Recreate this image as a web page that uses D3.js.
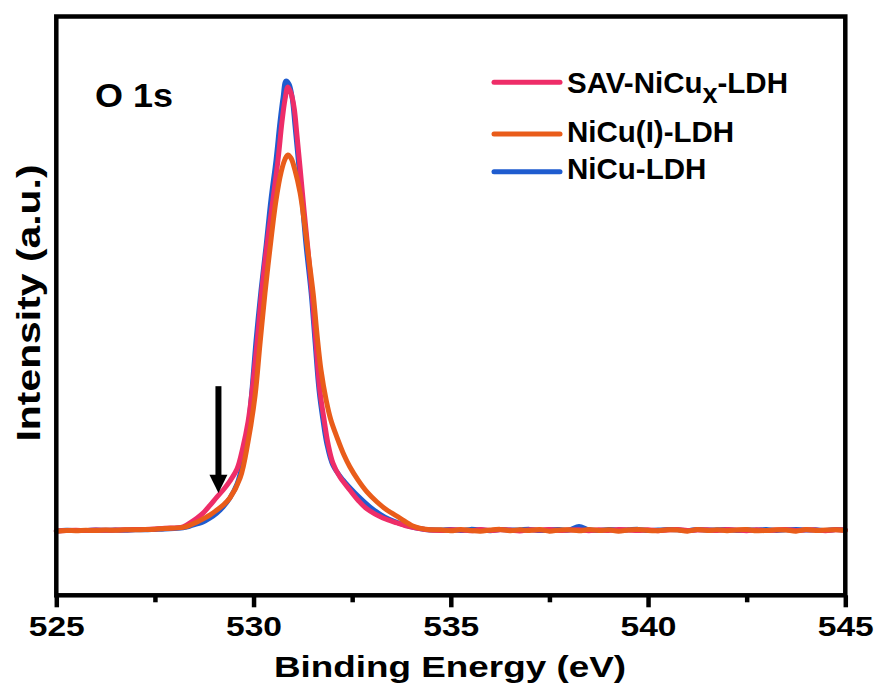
<!DOCTYPE html>
<html>
<head>
<meta charset="utf-8">
<script src="https://cdn.jsdelivr.net/npm/d3@7"></script>
<style>
  html, body { margin: 0; padding: 0; background: #fff; }
  svg { display: block; }
  text { font-family: Arial, "Liberation Sans", sans-serif; font-weight: bold; fill: #000; }
</style>
</head>
<body>
<svg id="chart" width="883" height="688"></svg>
<script>
// ---------------- data ----------------
const xTicks = [525, 530, 535, 540, 545];
const xMinorTicks = [527.5, 532.5, 537.5, 542.5];
const seriesNames = ["SAV-NiCu", "NiCu(I)-LDH", "NiCu-LDH"];

// flat baseline regions (binding energy, eV)
const leftTailE = [525.0, 525.25, 525.5, 525.75, 526.0, 526.25, 526.5, 526.75, 527.0, 527.25, 527.5, 527.75];
const rightTailE = [534.75, 535.0, 535.25, 535.5, 535.75, 536.0, 536.25, 536.5, 536.75, 537.0, 537.25, 537.5,
  537.75, 538.0, 538.25, 538.5, 538.75, 539.0, 539.25, 539.5, 539.75, 540.0, 540.25, 540.5, 540.75, 541.0,
  541.25, 541.5, 541.75, 542.0, 542.25, 542.5, 542.75, 543.0, 543.25, 543.5, 543.75, 544.0, 544.25, 544.5,
  544.75, 545.0];

// SAV-NiCux-LDH
const savLeft = [-0.1, 0.0, 0.05, 0.0, 0.1, 0.05, 0.1, 0.15, 0.2, 0.25, 0.35, 0.5];
const savPeakE = [528.21, 528.39, 528.57, 528.72, 528.90, 529.07, 529.23, 529.40, 529.58, 529.73, 529.86,
  529.96, 530.09, 530.21, 530.34, 530.49, 530.62, 530.72, 530.80, 530.87, 530.95, 531.03, 531.10, 531.18,
  531.28, 531.38, 531.48, 531.58, 531.68, 531.79, 531.89, 532.01, 532.19, 532.44, 532.65, 532.88, 533.28,
  533.64, 533.97, 534.35];
const savPeakI = [0.8, 1.7, 2.8, 3.9, 5.7, 7.5, 9.1, 11.1, 13.8, 18.7, 24.4,
  31.1, 42.3, 54.0, 64.1, 74.2, 83.2, 91.7, 96.9, 99.6, 98.2, 94.8, 88.8, 81.4,
  71.9, 63.0, 53.3, 42.3, 31.5, 24.8, 19.4, 15.2, 12.0, 9.1, 6.8, 4.8, 2.8,
  1.7, 0.8, 0.2];
const savRight = [0.0, 0.15, 0.1, -0.05, 0.2, 0.0, 0.15, 0.1, -0.1, 0.15, 0.1, 0.2, 0.0, 0.1, 0.15, -0.05, 0.15,
  0.0, 0.2, 0.1, 0.0, 0.15, -0.05, 0.1, 0.2, 0.0, 0.1, 0.15, 0.0, 0.2, 0.1, -0.05, 0.15, 0.0, 0.1, 0.2, 0.0,
  0.15, 0.1, -0.05, 0.15, 0.1];

// NiCu(I)-LDH
const niCuILeft = [-0.15, 0.0, -0.05, 0.05, 0.0, 0.1, 0.05, 0.15, 0.15, 0.2, 0.3, 0.45];
const niCuIPeakE = [528.21, 528.39, 528.57, 528.72, 528.90, 529.07, 529.23, 529.40, 529.66, 529.86, 530.04,
  530.16, 530.29, 530.42, 530.57, 530.70, 530.80, 530.87, 530.95, 531.05, 531.18, 531.28, 531.38, 531.51,
  531.61, 531.71, 531.84, 531.96, 532.12, 532.29, 532.44, 532.65, 532.88, 533.13, 533.38, 533.71, 534.04,
  534.42];
const niCuIPeakI = [0.7, 1.2, 1.9, 2.6, 3.5, 4.6, 5.7, 7.3, 11.8, 19.9, 30.4,
  41.6, 53.3, 63.6, 74.2, 80.5, 83.4, 84.3, 83.6, 80.9, 75.8, 69.7, 62.5, 53.3,
  43.9, 36.0, 29.3, 24.8, 20.8, 17.0, 14.3, 11.3, 8.6, 6.4, 4.6, 2.8, 1.0,
  0.2];
const niCuIRight = [0.15, -0.05, 0.2, 0.0, -0.15, 0.1, 0.25, -0.05, 0.15, 0.0, 0.2, -0.15, 0.1, 0.15, -0.05,
  0.2, 0.0, 0.15, -0.15, 0.1, 0.2, 0.0, -0.05, 0.15, 0.1, -0.15, 0.2, 0.0, 0.15, -0.05, 0.1, 0.2, -0.05, 0.0,
  0.15, 0.1, -0.15, 0.2, 0.0, 0.1, 0.15, 0.0];

// NiCu-LDH
const niCuLeft = [-0.1, 0.05, 0.0, 0.0, 0.1, 0.05, 0.1, 0.05, 0.15, 0.15, 0.25, 0.35];
const niCuPeakE = [528.21, 528.39, 528.57, 528.72, 528.90, 529.07, 529.23, 529.40, 529.58, 529.73, 529.86,
  529.96, 530.06, 530.19, 530.32, 530.44, 530.57, 530.67, 530.75, 530.82, 530.90, 530.98, 531.05, 531.13,
  531.23, 531.33, 531.46, 531.56, 531.66, 531.76, 531.86, 532.01, 532.27, 532.57, 532.95, 533.33, 533.84,
  534.35];
const niCuPeakI = [0.6, 1.0, 1.5, 1.9, 2.8, 3.9, 5.3, 7.3, 10.4, 15.4, 22.6,
  31.5, 42.3, 54.0, 64.1, 74.2, 83.2, 91.7, 97.3, 100.9, 100.2, 97.1, 91.0, 83.6,
  74.2, 64.1, 53.3, 42.3, 31.5, 24.8, 19.4, 14.7, 11.3, 8.4, 5.3, 3.0, 1.2,
  0.2];
const niCuRight = [0.1, 0.2, 0.0, 0.25, 0.15, -0.05, 0.2, 0.1, 0.15, 0.25, 0.0, 0.15, 0.2, 0.1, 0.9, 0.15, 0.0,
  0.2, 0.1, 0.15, 0.25, 0.0, 0.1, 0.2, 0.15, 0.0, 0.25, 0.1, 0.15, 0.2, 0.0, 0.15, 0.1, 0.2, 0.0, 0.15, 0.25,
  0.1, 0.15, 0.0, 0.2, 0.1];

// arrow annotation (eV, intensity)
const arrowE = 529.11, arrowTopI = 32.4, arrowBaseI = 12.5, arrowTipI = 8.4;

// ---------------- build ----------------
function build(leftI, peakE, peakI, rightI) {
  const pts = [];
  leftTailE.forEach((e, i) => pts.push([e, leftI[i]]));
  peakE.forEach((e, i) => pts.push([e, peakI[i]]));
  rightTailE.forEach((e, i) => pts.push([e, rightI[i]]));
  return pts;
}
const series = [
  { key: "niCu", color: "#1f5ccf", pts: build(niCuLeft, niCuPeakE, niCuPeakI, niCuRight) },
  { key: "sav", color: "#ee2d68", pts: build(savLeft, savPeakE, savPeakI, savRight) },
  { key: "niCuI", color: "#e95c1a", pts: build(niCuILeft, niCuIPeakE, niCuIPeakI, niCuIRight) }
];

const svg = d3.select("#chart");
const L = 56.3, R = 845.3, T = 16.5, B = 595.3;
const x = d3.scaleLinear().domain([525, 545]).range([L, R]);
const y = d3.scaleLinear().domain([-14.55, 115.4]).range([B, T]);

const line = d3.line().x(d => x(d[0])).y(d => y(d[1])).curve(d3.curveCatmullRom.alpha(0.5));

svg.append("g").selectAll("path").data(series).join("path")
  .attr("d", d => line(d.pts))
  .attr("fill", "none")
  .attr("stroke", d => d.color)
  .attr("stroke-width", 5)
  .attr("stroke-linejoin", "round")
  .attr("stroke-linecap", "round");

// arrow
const ax = x(arrowE);
svg.append("line")
  .attr("x1", ax).attr("x2", ax)
  .attr("y1", y(arrowTopI)).attr("y2", y(arrowBaseI) + 2)
  .attr("stroke", "#000").attr("stroke-width", 6);
svg.append("path")
  .attr("d", `M${ax - 9},${y(arrowBaseI)} L${ax + 9},${y(arrowBaseI)} L${ax},${y(arrowTipI)} Z`)
  .attr("fill", "#000");

// axes: major & minor ticks
const xAxis = d3.axisBottom(x).tickValues(xTicks).tickSize(12).tickFormat(d3.format("d"));
const gx = svg.append("g").attr("transform", `translate(0,${B})`).call(xAxis);
gx.select(".domain").remove();
gx.selectAll(".tick line").attr("stroke", "#000").attr("stroke-width", 4.5);
gx.selectAll(".tick text")
  .attr("y", 41).attr("dy", 0)
  .style("font-size", "27px")
  .attr("textLength", 56).attr("lengthAdjust", "spacingAndGlyphs");

const xMinor = d3.axisBottom(x).tickValues(xMinorTicks).tickSize(7).tickFormat("");
const gm = svg.append("g").attr("transform", `translate(0,${B})`).call(xMinor);
gm.select(".domain").remove();
gm.selectAll(".tick line").attr("stroke", "#000").attr("stroke-width", 4.5);

// frame
svg.append("rect")
  .attr("x", L).attr("y", T).attr("width", R - L).attr("height", B - T)
  .attr("fill", "none").attr("stroke", "#000").attr("stroke-width", 4.5);

// axis titles
svg.append("text")
  .attr("x", 450).attr("y", 677).attr("text-anchor", "middle")
  .style("font-size", "30px")
  .attr("textLength", 352).attr("lengthAdjust", "spacingAndGlyphs")
  .text("Binding Energy (eV)");
svg.append("text")
  .attr("transform", "translate(40,303) rotate(-90)")
  .attr("text-anchor", "middle")
  .style("font-size", "32.5px")
  .attr("textLength", 277).attr("lengthAdjust", "spacingAndGlyphs")
  .text("Intensity (a.u.)");

// panel label
svg.append("text")
  .attr("x", 95).attr("y", 107)
  .style("font-size", "33px")
  .attr("textLength", 78).attr("lengthAdjust", "spacingAndGlyphs")
  .text("O 1s");

// legend
const legendItems = [
  { color: "#ee2d68", ly: 82.3, ty: 93.3, label: seriesNames[0], sub: "x", tail: "-LDH" },
  { color: "#e95c1a", ly: 134, ty: 141.7, label: seriesNames[1] },
  { color: "#1f5ccf", ly: 171.7, ty: 179.3, label: seriesNames[2] }
];
legendItems.forEach(it => {
  svg.append("line")
    .attr("x1", 494).attr("x2", 560).attr("y1", it.ly).attr("y2", it.ly)
    .attr("stroke", it.color).attr("stroke-width", 5).attr("stroke-linecap", "round");
  const t = svg.append("text").attr("x", 567).attr("y", it.ty).style("font-size", "29.5px");
  t.append("tspan").text(it.label);
  if (it.sub) {
    t.append("tspan").attr("dy", 10).style("font-size", "27px").text(it.sub);
    t.append("tspan").attr("dy", -10).text(it.tail);
  }
});
</script>
</body>
</html>
